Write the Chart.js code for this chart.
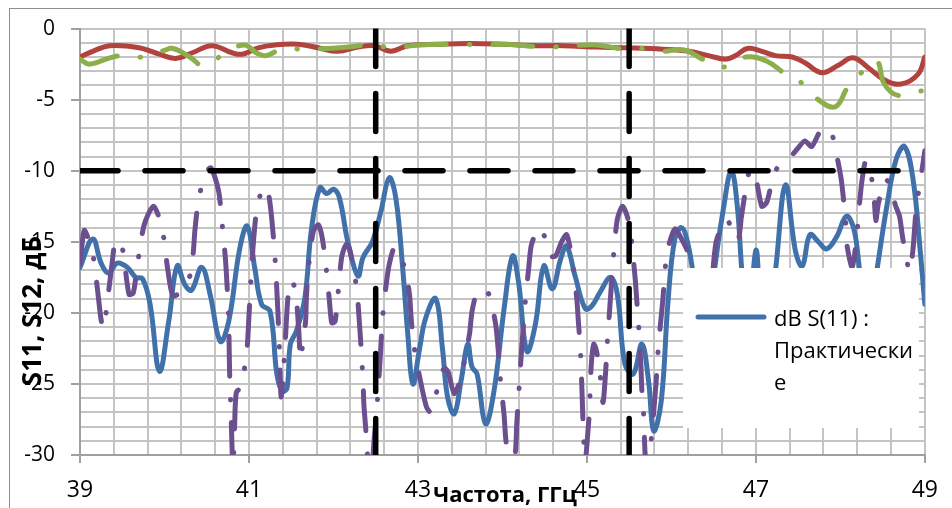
<!DOCTYPE html>
<html>
<head>
<meta charset="utf-8">
<script src="https://cdn.jsdelivr.net/npm/chart.js@4.4.1/dist/chart.umd.min.js"></script>
<style>
    html, body { margin: 0; padding: 0; background: #fff; }
    #wrap { position: relative; width: 952px; height: 508px; overflow: hidden; }
    #frame { position: absolute; left: 9px; top: 8px; width: 1000px; height: 600px;
             border-left: 1px solid #8f8f8f; border-top: 1px solid #8f8f8f; }
    #sChart { position: absolute; left: 0; top: 0; }
</style>
</head>
<body>
<div id="wrap">
    <div id="frame"></div>
    <canvas id="sChart" width="952" height="508"></canvas>
</div>
<script>
// S11 measured (blue)
const freqS11Meas = [39.00, 39.15, 39.25, 39.34, 39.44, 39.56, 39.66, 39.74, 39.83, 39.94,
    40.05, 40.15, 40.24, 40.32, 40.44, 40.54, 40.66, 40.76, 40.89, 40.98,
    41.07, 41.15, 41.25, 41.33, 41.39, 41.45, 41.49, 41.56, 41.66, 41.74,
    41.84, 41.92, 42.00, 42.07, 42.17, 42.29, 42.35, 42.46, 42.56, 42.66,
    42.74, 42.82, 42.88, 42.94, 43.02, 43.09, 43.21, 43.29, 43.35, 43.43,
    43.51, 43.59, 43.64, 43.70, 43.80, 43.90, 44.02, 44.12, 44.19, 44.29,
    44.39, 44.49, 44.59, 44.69, 44.76, 44.86, 44.98, 45.06, 45.16, 45.28,
    45.36, 45.45, 45.55, 45.65, 45.73, 45.79, 45.88, 45.96, 46.04, 46.12,
    46.19, 46.26, 46.34, 46.42, 46.51, 46.62, 46.71, 46.78, 46.84, 46.91,
    47.00, 47.06, 47.13, 47.23, 47.35, 47.47, 47.55, 47.64, 47.74, 47.84,
    47.96, 48.07, 48.16, 48.23, 48.33, 48.43, 48.55, 48.66, 48.76, 48.86,
    48.94, 49.00];
const s11Meas = [-16.8, -14.8, -16.5, -17.2, -16.5, -16.8, -17.5, -17.6, -19.4, -24.1,
    -20.6, -16.7, -18.0, -18.4, -16.8, -18.7, -22.0, -20.6, -15.5, -13.9,
    -16.9, -19.4, -19.9, -24.3, -25.5, -25.3, -22.2, -21.3, -19.0, -14.1,
    -11.2, -11.6, -11.3, -11.9, -15.0, -17.4, -16.1, -15.0, -12.9, -10.5,
    -12.0, -16.9, -21.5, -25.0, -22.5, -20.4, -19.0, -22.5, -25.9, -27.1,
    -24.8, -22.2, -23.8, -24.3, -27.8, -25.5, -19.7, -16.0, -17.8, -22.7,
    -20.8, -16.7, -18.3, -16.2, -15.3, -17.4, -19.7, -19.5, -18.5, -17.5,
    -18.7, -23.6, -24.3, -22.2, -24.8, -28.3, -26.2, -19.2, -14.8, -14.0,
    -15.0, -17.4, -21.5, -22.5, -17.0, -12.5, -10.0, -12.5, -17.5, -21.0,
    -15.6, -19.5, -21.0, -17.1, -11.0, -15.7, -16.7, -14.5, -15.0, -15.5,
    -14.6, -13.2, -14.1, -17.1, -21.0, -17.1, -12.5, -9.2, -8.3, -10.6,
    -15.3, -19.4];

// S11 simulated (purple)
const freqS11Sim = [39.00, 39.05, 39.10, 39.15, 39.20, 39.25, 39.28, 39.32, 39.38, 39.42,
    39.47, 39.51, 39.58, 39.63, 39.68, 39.76, 39.87, 39.97, 40.04, 40.10,
    40.20, 40.30, 40.34, 40.36, 40.40, 40.48, 40.55, 40.64, 40.68, 40.72,
    40.74, 40.76, 40.77, 40.79, 40.81, 40.83, 40.85, 40.91, 40.98, 41.00,
    41.03, 41.06, 41.10, 41.18, 41.23, 41.27, 41.31, 41.34, 41.36, 41.38,
    41.40, 41.43, 41.46, 41.50, 41.55, 41.59, 41.61, 41.64, 41.67, 41.68,
    41.70, 41.76, 41.82, 41.86, 41.90, 41.95, 41.98, 42.02, 42.07, 42.10,
    42.15, 42.19, 42.24, 42.28, 42.30, 42.32, 42.35, 42.36, 42.38, 42.42,
    42.46, 42.48, 42.51, 42.55, 42.58, 42.62, 42.66, 42.72, 42.78, 42.85,
    42.90, 42.92, 42.95, 43.03, 43.10, 43.15, 43.19, 43.27, 43.32, 43.36,
    43.43, 43.51, 43.61, 43.64, 43.70, 43.76, 43.84, 43.92, 43.95, 43.97,
    44.02, 44.04, 44.09, 44.15, 44.17, 44.19, 44.22, 44.24, 44.26, 44.31,
    44.34, 44.40, 44.45, 44.52, 44.57, 44.63, 44.70, 44.76, 44.82, 44.88,
    44.90, 44.92, 44.94, 44.95, 44.96, 44.98, 45.01, 45.03, 45.05, 45.08,
    45.11, 45.15, 45.19, 45.22, 45.24, 45.27, 45.29, 45.31, 45.36, 45.42,
    45.46, 45.51, 45.57, 45.59, 45.61, 45.64, 45.65, 45.67, 45.69, 45.72,
    45.76, 45.79, 45.82, 45.85, 45.90, 45.92, 45.95, 46.04, 46.12, 46.24,
    46.32, 46.40, 46.47, 46.53, 46.65, 46.73, 46.79, 46.83, 46.91, 46.96,
    47.01, 47.07, 47.13, 47.21, 47.30, 47.41, 47.50, 47.58, 47.66, 47.76,
    47.86, 47.91, 47.96, 48.01, 48.06, 48.08, 48.14, 48.19, 48.23, 48.26,
    48.30, 48.35, 48.40, 48.42, 48.45, 48.53, 48.59, 48.65, 48.70, 48.74,
    48.82, 48.86, 48.90, 48.95, 49.00];
const s11Sim = [-16.5, -14.2, -14.8, -15.8, -18.0, -20.5, -21.1, -19.4, -16.5, -14.9,
    -15.0, -15.7, -18.7, -18.6, -16.6, -13.8, -12.5, -14.0, -17.0, -18.8,
    -18.5, -17.4, -15.8, -14.2, -12.2, -10.2, -9.8, -11.4, -13.6, -16.1,
    -18.0, -20.5, -24.0, -27.5, -31.0, -28.0, -25.6, -25.2, -22.3, -20.2,
    -17.0, -14.5, -12.4, -11.1, -11.6, -13.4, -16.3, -19.6, -22.5, -25.9,
    -24.8, -22.0, -19.0, -17.7, -18.4, -21.3, -23.3, -22.0, -20.6, -18.9,
    -17.1, -14.3, -13.8, -14.5, -16.1, -19.0, -20.7, -20.6, -17.6, -16.0,
    -15.2, -15.5, -17.0, -18.5, -20.1, -21.8, -24.8, -26.4, -28.0, -31.0,
    -30.5, -29.0, -27.0, -23.5, -20.5, -18.2, -16.6, -15.4, -15.8, -17.0,
    -18.7, -20.4, -22.2, -24.8, -26.6, -27.0, -26.4, -24.3, -23.9, -24.2,
    -25.7, -24.5, -21.5, -19.9, -18.5, -18.3, -18.7, -20.8, -22.6, -24.3,
    -27.2, -28.9, -31.0, -30.0, -27.8, -26.0, -23.2, -21.5, -19.9, -16.9,
    -15.3, -14.3, -14.0, -15.0, -16.0, -16.0, -15.0, -14.5, -16.1, -19.0,
    -20.7, -22.3, -25.2, -27.0, -28.6, -30.5, -28.5, -26.9, -23.8, -22.2,
    -22.6, -24.0, -26.3, -24.3, -22.2, -19.7, -18.0, -16.3, -13.4, -12.5,
    -12.9, -14.0, -17.5, -19.1, -20.7, -23.8, -25.4, -27.0, -30.0, -31.0,
    -29.0, -27.0, -24.8, -22.1, -19.0, -17.4, -15.7, -14.1, -14.8, -16.4,
    -19.5, -21.0, -18.5, -15.0, -13.4, -14.3, -14.9, -13.2, -10.3, -9.9,
    -10.8, -12.5, -12.2, -10.3, -9.4, -9.0, -8.4, -7.9, -8.3, -7.25,
    -7.0, -7.6, -9.0, -10.6, -13.4, -15.3, -16.8, -14.8, -12.1, -10.5,
    -9.3, -9.8, -12.0, -13.5, -12.3, -10.6, -11.0, -12.4, -13.2, -14.8,
    -17.1, -15.5, -12.5, -10.6, -8.6];

// S12 measured (red)
const freqS12Meas = [39.00, 39.15, 39.35, 39.70, 39.94, 40.13, 40.33, 40.56, 40.80, 40.92,
    41.11, 41.31, 41.58, 41.82, 42.05, 42.29, 42.48, 42.68, 42.88, 43.23,
    43.62, 44.01, 44.41, 44.72, 45.11, 45.46, 45.90, 46.21, 46.44, 46.64,
    46.76, 46.90, 47.07, 47.23, 47.43, 47.58, 47.78, 47.97, 48.15, 48.33,
    48.52, 48.72, 48.92, 49.00];
const s12Meas = [-2.0, -1.6, -1.2, -1.35, -1.8, -2.1, -1.7, -1.2, -1.7, -1.8,
    -1.35, -1.15, -1.1, -1.35, -1.6, -1.3, -1.2, -1.6, -1.2, -1.1,
    -1.05, -1.1, -1.2, -1.2, -1.3, -1.35, -1.45, -1.6, -1.9, -2.15,
    -1.9, -1.4, -1.6, -1.9, -2.0, -2.4, -3.1, -2.6, -2.05, -2.75,
    -3.6, -3.9, -3.2, -2.0];

// S12 simulated (green)
const freqS12Sim = [39.00, 39.11, 39.31, 39.48, 39.74, 39.99, 40.10, 40.30, 40.46, 40.69,
    40.94, 41.10, 41.20, 41.39, 41.66, 41.94, 42.17, 42.43, 42.72, 42.99,
    43.50, 43.77, 44.05, 44.52, 44.83, 45.11, 45.46, 45.58, 45.88, 46.15,
    46.37, 46.62, 46.88, 47.13, 47.35, 47.56, 47.75, 47.94, 48.09, 48.25,
    48.43, 48.52, 48.68, 48.94, 49.00];
const s12Sim = [-2.15, -2.5, -2.15, -1.9, -2.0, -1.55, -1.4, -2.0, -2.6, -1.85,
    -1.15, -1.75, -1.9, -1.45, -1.45, -1.4, -1.3, -1.15, -1.35, -1.15,
    -1.1, -1.15, -1.1, -1.3, -1.2, -1.15, -1.45, -1.35, -1.6, -1.5,
    -2.15, -2.7, -2.0, -2.3, -3.2, -3.9, -5.05, -5.5, -4.1, -3.1,
    -2.3, -3.9, -4.7, -4.4, -4.4];

// band markers (black dashed)
const markerFreqs = [42.5, 45.5];
const markerLevel = -10;

const xTickLabels = [39, 41, 43, 45, 47, 49];
const yTickLabels = [0, -5, -10, -15, -20, -25, -30];
const legendLines = ['dB S(11) :', 'Практически', 'е'];
const xTitle = 'Частота, ГГц';
const yTitle = 'S11, S12, дБ';

const blue = '#4171aa';
const purple = '#6b4f8f';
const red = '#b1423d';
const green = '#8caf4b';
const gridColor = '#c4c4c4';
const fontName = '"Open Sans", "Noto Sans", sans-serif';

function toPoints(xs, ys) {
    return xs.map((x, i) => ({x: x, y: ys[i]}));
}

function isLabeled(list, v) {
    return list.some(t => Math.abs(t - v) < 1e-6);
}

const dashDot = [40, 23, 0.5, 23];

const datasets = [
    {
        data: toPoints(freqS11Meas, s11Meas),
        borderColor: blue, borderWidth: 5, tension: 0.4, order: 5,
        borderCapStyle: 'round', borderJoinStyle: 'round'
    },
    {
        data: toPoints(freqS11Sim, s11Sim),
        borderColor: purple, borderWidth: 5, tension: 0.25, order: 4,
        borderDash: dashDot, borderCapStyle: 'round', borderJoinStyle: 'round'
    },
    {
        data: toPoints(freqS12Meas, s12Meas),
        borderColor: red, borderWidth: 5, tension: 0.4, order: 3,
        borderCapStyle: 'round', borderJoinStyle: 'round'
    },
    {
        data: toPoints(freqS12Sim, s12Sim),
        borderColor: green, borderWidth: 5, tension: 0.4, order: 2,
        borderDash: dashDot, borderCapStyle: 'round', borderJoinStyle: 'round'
    }
];

markerFreqs.forEach(f => {
    datasets.push({
        data: [{x: f, y: 0}, {x: f, y: -30}],
        borderColor: '#000', borderWidth: 5.5, order: 0,
        borderDash: [38, 27], borderCapStyle: 'round'
    });
});
datasets.push({
    data: [{x: 39, y: markerLevel}, {x: 49, y: markerLevel}],
    borderColor: '#000', borderWidth: 5.5, order: 0,
    borderDash: [38, 27], borderCapStyle: 'round'
});

// legend box + axis titles, placed like the original Excel layout
const overlay = {
    id: 'overlay',
    afterDatasetsDraw(chart) {
        const c = chart.ctx;
        c.save();
        c.fillStyle = '#fff';
        c.fillRect(683, 268, 236, 160);
        c.strokeStyle = blue;
        c.lineWidth = 5;
        c.lineCap = 'round';
        c.beginPath();
        c.moveTo(698, 317);
        c.lineTo(764, 317);
        c.stroke();
        c.fillStyle = '#000';
        c.font = '22px ' + fontName;
        c.textAlign = 'left';
        c.textBaseline = 'alphabetic';
        legendLines.forEach((t, i) => c.fillText(t, 774, 326 + i * 32));
        c.restore();
    },
    afterDraw(chart) {
        const c = chart.ctx;
        c.save();
        c.fillStyle = '#000';
        c.textAlign = 'center';
        c.textBaseline = 'alphabetic';
        c.font = 'bold 22px ' + fontName;
        c.fillText(xTitle, 505, 502);
        c.translate(41, 311);
        c.rotate(-Math.PI / 2);
        c.font = 'bold 26px ' + fontName;
        c.fillText(yTitle, 0, 0);
        c.restore();
    }
};

new Chart(document.getElementById('sChart'), {
    type: 'line',
    data: {datasets: datasets},
    options: {
        responsive: false,
        animation: false,
        events: [],
        layout: {padding: {top: 24, right: 22, left: 0, bottom: 0}},
        elements: {point: {radius: 0}},
        plugins: {legend: {display: false}, tooltip: {enabled: false}},
        scales: {
            x: {
                type: 'linear',
                min: 39, max: 49,
                afterFit: s => { s.height = 53; },
                border: {color: '#a0a0a0', width: 2},
                grid: {
                    color: gridColor, lineWidth: 2, tickLength: 8,
                    tickColor: ctx => ctx.tick && isLabeled(xTickLabels, ctx.tick.value) ? '#a0a0a0' : 'rgba(0,0,0,0)'
                },
                ticks: {
                    stepSize: 0.4, autoSkip: false, maxRotation: 0, padding: 14,
                    color: '#000', font: {family: fontName, size: 23},
                    callback: v => isLabeled(xTickLabels, v) ? String(Math.round(v)) : ''
                }
            },
            y: {
                min: -30, max: 0,
                afterFit: s => { s.width = 80; },
                border: {color: '#a0a0a0', width: 2},
                grid: {
                    color: gridColor, lineWidth: 2, tickLength: 9,
                    tickColor: ctx => ctx.tick && isLabeled(yTickLabels, ctx.tick.value) ? '#a0a0a0' : 'rgba(0,0,0,0)'
                },
                ticks: {
                    stepSize: 1, autoSkip: false, padding: 16,
                    color: '#000', font: {family: fontName, size: 21},
                    callback: v => isLabeled(yTickLabels, v) ? String(v) : ''
                }
            }
        }
    },
    plugins: [overlay]
});
</script>
</body>
</html>
